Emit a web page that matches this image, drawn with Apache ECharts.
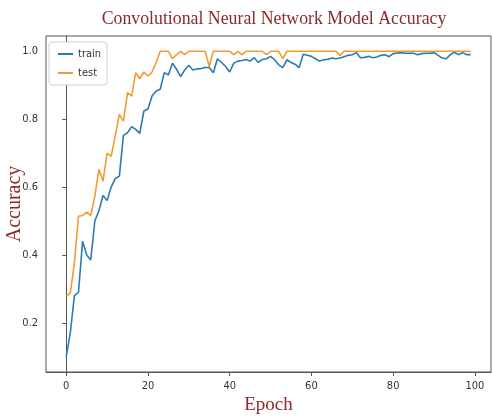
<!DOCTYPE html>
<html>
<head>
<meta charset="utf-8">
<script src="https://cdn.jsdelivr.net/npm/echarts@6/dist/echarts.min.js"></script>
<style>html,body{margin:0;padding:0;background:#fff}#c{width:492px;height:417px}</style>
</head>
<body>
<div id="c"></div>
<script>
var epochs = [];
for (var i = 0; i < 100; i++) epochs.push(i);

var trainAcc = [
  0.10, 0.17, 0.28, 0.29, 0.44, 0.40, 0.385, 0.50, 0.53, 0.575,
  0.56, 0.60, 0.625, 0.632, 0.752, 0.76, 0.778, 0.77, 0.758, 0.824,
  0.83, 0.868, 0.883, 0.888, 0.937, 0.93, 0.965, 0.947, 0.925, 0.945,
  0.959, 0.945, 0.948, 0.949, 0.952, 0.952, 0.937, 0.978, 0.967, 0.955,
  0.939, 0.965, 0.971, 0.973, 0.976, 0.971, 0.981, 0.967, 0.976, 0.978,
  0.985, 0.975, 0.96, 0.952, 0.975, 0.967, 0.962, 0.952, 0.991, 0.988,
  0.985, 0.978, 0.971, 0.975, 0.976, 0.98, 0.978, 0.98, 0.984, 0.988,
  0.99, 0.996, 0.981, 0.982, 0.985, 0.981, 0.983, 0.988, 0.99, 0.984,
  0.993, 0.995, 0.996, 0.994, 0.994, 0.994, 0.99, 0.993, 0.994, 0.994,
  0.996, 0.988, 0.98, 0.978, 0.99, 0.997, 0.99, 0.996, 0.99, 0.99
];

var testAcc = [
  0.278, 0.288, 0.376, 0.514, 0.516, 0.526, 0.516, 0.573, 0.652, 0.617,
  0.70, 0.69, 0.752, 0.814, 0.794, 0.878, 0.868, 0.937, 0.919, 0.939,
  0.927, 0.939, 0.967, 1.0, 1.0, 1.0, 0.978, 0.99, 1.0, 0.99,
  1.0, 1.0, 1.0, 1.0, 1.0, 0.955, 1.0, 1.0, 1.0, 1.0,
  1.0, 0.99, 1.0, 0.99, 1.0, 1.0, 1.0, 1.0, 1.0, 0.99,
  1.0, 1.0, 1.0, 0.978, 1.0, 1.0, 1.0, 1.0, 1.0, 1.0,
  1.0, 1.0, 1.0, 1.0, 1.0, 1.0, 1.0, 0.988, 1.0, 1.0,
  1.0, 1.0, 1.0, 1.0, 1.0, 1.0, 1.0, 1.0, 1.0, 1.0,
  1.0, 1.0, 1.0, 1.0, 1.0, 1.0, 1.0, 1.0, 1.0, 1.0,
  1.0, 1.0, 1.0, 1.0, 1.0, 1.0, 1.0, 1.0, 1.0, 1.0
];

var xTicks = [0, 20, 40, 60, 80, 100];
var yTicks = [0.2, 0.4, 0.6, 0.8, 1.0];

function pairs(ys) { return epochs.map(function (e, i) { return [e, ys[i]]; }); }

var labelFont = '"Liberation Sans Narrow", "DejaVu Sans Condensed", "DejaVu Sans", sans-serif';
var serif = '"Liberation Serif", "DejaVu Serif", serif';
var red = '#8b2a2a';

var chart = echarts.init(document.getElementById('c'), null, {renderer: 'canvas'});
chart.setOption({
  animation: false,
  backgroundColor: '#fff',
  title: {
    text: 'Convolutional Neural Network Model Accuracy',
    left: 269, top: 5, textAlign: 'center',
    textStyle: {fontFamily: serif, fontSize: 17.8, fontWeight: 'normal', color: red}
  },
  legend: {
    orient: 'vertical', left: 49, top: 42,
    data: ['train', 'test'],
    icon: 'rect', itemWidth: 15, itemHeight: 2, itemGap: 7,
    padding: [6, 6, 6, 9],
    backgroundColor: '#fff', borderColor: '#d0d0d0', borderWidth: 1, borderRadius: 3,
    textStyle: {fontFamily: labelFont, fontSize: 11, color: '#333', lineHeight: 12}
  },
  grid: {left: 46, right: 1, top: 36, bottom: 45, outerBoundsMode: 'none', containLabel: false,
    show: true, borderColor: '#555', borderWidth: 1},
  xAxis: {
    type: 'value', min: -4.95, max: 103.95,
    name: 'Epoch', nameLocation: 'middle', nameGap: 24, nameMoveOverlap: false,
    nameTextStyle: {fontFamily: serif, fontSize: 19, color: red},
    axisLine: {show: true, lineStyle: {color: '#555'}},
    axisTick: {show: true, length: 4, lineStyle: {color: '#555'}, customValues: xTicks},
    axisLabel: {customValues: xTicks, margin: 9, fontFamily: labelFont, fontSize: 11, color: '#333'},
    splitLine: {show: false}
  },
  yAxis: {
    type: 'value', min: 0.055, max: 1.045,
    name: 'Accuracy', nameLocation: 'middle', nameGap: 21, nameRotate: 90, nameMoveOverlap: false,
    nameTextStyle: {fontFamily: serif, fontSize: 20, color: red},
    axisLine: {show: true, lineStyle: {color: '#555'}},
    axisTick: {show: true, length: 4, lineStyle: {color: '#555'}, customValues: yTicks},
    axisLabel: {customValues: yTicks, margin: 8, fontFamily: labelFont, fontSize: 11, color: '#333',
      formatter: function (v) { return v.toFixed(1); }},
    splitLine: {show: false}
  },
  series: [
    {name: 'train', type: 'line', data: pairs(trainAcc), showSymbol: false, symbol: 'none',
      lineStyle: {width: 1.6, color: '#2b7bb3'}, itemStyle: {color: '#2b7bb3'}},
    {name: 'test', type: 'line', data: pairs(testAcc), showSymbol: false, symbol: 'none',
      lineStyle: {width: 1.6, color: '#f59a33'}, itemStyle: {color: '#f59a33'}}
  ]
});
</script>
</body>
</html>
